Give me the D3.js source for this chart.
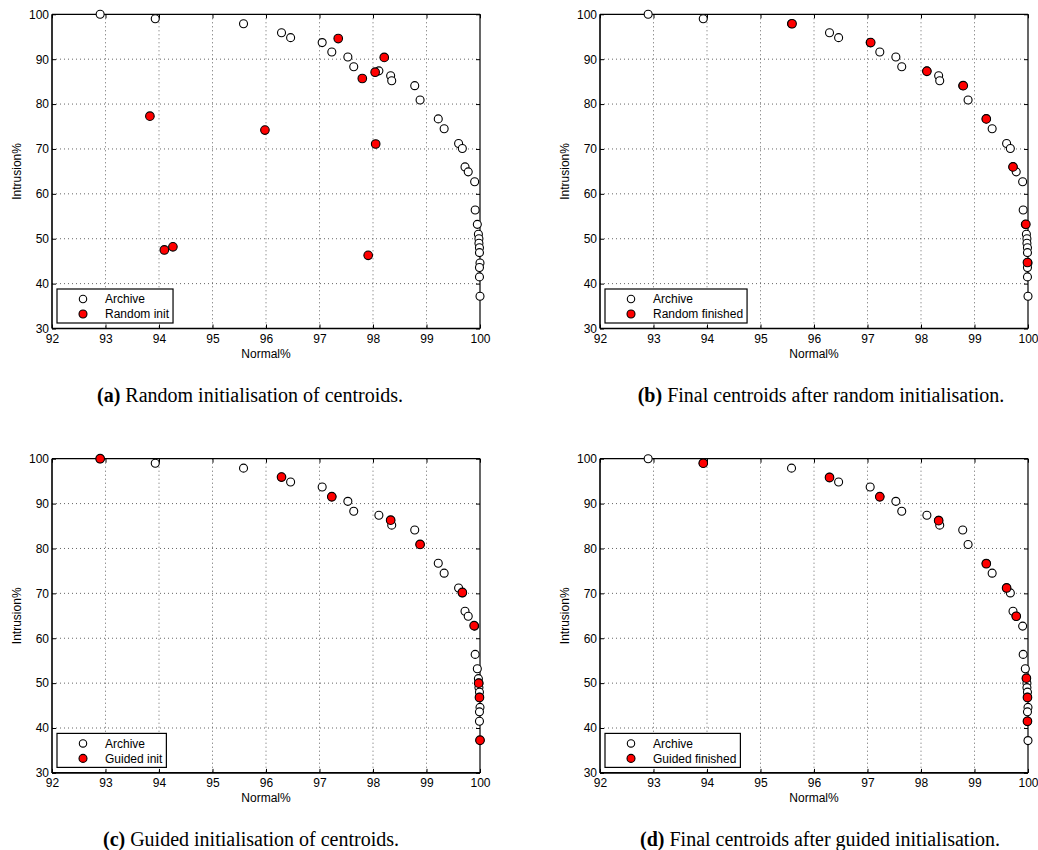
<!DOCTYPE html>
<html><head><meta charset="utf-8">
<script src="https://cdn.jsdelivr.net/npm/d3@7"></script>
<style>body{margin:0;background:#fff}</style>
</head><body><svg id="c" width="1038" height="850"></svg>
<script>
// ---- data ----
const archiveNormal    = [92.90,93.93,95.58,96.29,96.46,97.05,97.23,97.53,97.64,98.11,98.33,98.35,98.78,98.88,99.22,99.33,99.60,99.67,99.72,99.78,99.90,99.91,99.95,99.97,99.98,99.98,99.99,99.99,100.0,99.99,99.99,100.0];
const archiveIntrusion = [100.0,99.0,97.9,95.9,94.8,93.7,91.6,90.5,88.3,87.4,86.3,85.2,84.1,80.9,76.7,74.5,71.2,70.1,66.0,64.9,62.7,56.4,53.2,51.0,50.0,49.0,48.0,46.9,44.6,43.6,41.5,37.2];

const randomInitNormal    = [93.83,95.98,97.35,98.21,97.80,98.04,98.05,94.10,94.26,97.91];
const randomInitIntrusion = [77.3,74.2,94.6,90.4,85.7,87.1,71.1,47.5,48.2,46.3];

const randomFinNormal    = [95.59,97.06,98.11,98.79,99.22,99.72,99.96,99.99];
const randomFinIntrusion = [97.9,93.7,87.3,84.1,76.7,66.0,53.2,44.7];

const guidedInitNormal    = [92.90,96.29,97.23,98.33,98.88,99.67,99.89,99.975,99.99,100.0];
const guidedInitIntrusion = [100.0,95.9,91.5,86.3,80.9,70.2,62.8,50.0,46.8,37.3];

const guidedFinNormal    = [93.93,96.29,97.23,98.33,99.22,99.60,99.78,99.97,99.99,99.99];
const guidedFinIntrusion = [99.0,95.8,91.5,86.2,76.6,71.2,64.9,51.1,46.8,41.5];

const xTicks = [92,93,94,95,96,97,98,99,100];
const yTicks = [30,40,50,60,70,80,90,100];
const xLabel = "Normal%";
const yLabel = "Intrusion%";
const legendArchive = "Archive";
const panelLegends = ["Random init","Random finished","Guided init","Guided finished"];
const captionTags = ["(a)","(b)","(c)","(d)"];
const captionTexts = ["Random initialisation of centroids.","Final centroids after random initialisation.","Guided initialisation of centroids.","Final centroids after guided initialisation."];

// ---- drawing ----
const svg = d3.select("#c");
const sans = "'Liberation Sans', Arial, Helvetica, sans-serif";
const serif = "'Liberation Serif', 'Times New Roman', serif";

const panels = [
  {ox:0,   oy:0,     rx:randomInitNormal, ry:randomInitIntrusion, cx:250},
  {ox:548, oy:0,     rx:randomFinNormal,  ry:randomFinIntrusion,  cx:821},
  {ox:0,   oy:444.4, rx:guidedInitNormal, ry:guidedInitIntrusion, cx:251},
  {ox:548, oy:444.4, rx:guidedFinNormal,  ry:guidedFinIntrusion,  cx:820}
];

panels.forEach((p, i) => {
  const x0 = 52 + p.ox, x1 = 480 + p.ox, y0 = 14.3 + p.oy, y1 = 328.5 + p.oy;
  const x = d3.scaleLinear().domain([92,100]).range([x0,x1]);
  const y = d3.scaleLinear().domain([30,100]).range([y1,y0]);
  const g = svg.append("g");

  // grid
  g.append("g").selectAll("line").data(xTicks.slice(1,-1)).join("line")
    .attr("x1", d=>x(d)).attr("x2", d=>x(d)).attr("y1", y0).attr("y2", y1)
    .attr("stroke","#555").attr("stroke-width",0.9).attr("stroke-dasharray","1,3");
  g.append("g").selectAll("line").data(yTicks.slice(1,-1)).join("line")
    .attr("x1", x0).attr("x2", x1).attr("y1", d=>y(d)).attr("y2", d=>y(d))
    .attr("stroke","#555").attr("stroke-width",0.9).attr("stroke-dasharray","1,3");

  // axes
  const ax = g.append("g").attr("transform",`translate(0,${y1})`)
    .call(d3.axisBottom(x).tickValues(xTicks).tickSize(-4).tickPadding(6).tickFormat(d3.format("d")));
  const ay = g.append("g").attr("transform",`translate(${x0},0)`)
    .call(d3.axisLeft(y).tickValues(yTicks).tickSize(-4).tickPadding(3).tickFormat(d3.format("d")));
  const at = g.append("g").attr("transform",`translate(0,${y0})`)
    .call(d3.axisTop(x).tickValues(xTicks).tickSize(-4).tickFormat(""));
  const ar = g.append("g").attr("transform",`translate(${x1},0)`)
    .call(d3.axisRight(y).tickValues(yTicks).tickSize(-4).tickFormat(""));
  [ax,ay,at,ar].forEach(a => {
    a.select(".domain").remove();
    a.selectAll("text").attr("font-family", sans).attr("font-size", 12).attr("fill","#000");
    a.selectAll("line").attr("stroke","#000");
  });

  // frame
  g.append("line").attr("x1",x0).attr("x2",x1).attr("y1",y0).attr("y2",y0).attr("stroke","#000").attr("stroke-width",1.2);
  g.append("line").attr("x1",x1).attr("x2",x1).attr("y1",y0).attr("y2",y1).attr("stroke","#000").attr("stroke-width",1.2);
  g.append("line").attr("x1",x0).attr("x2",x1).attr("y1",y1).attr("y2",y1).attr("stroke","#000").attr("stroke-width",1.6);
  g.append("line").attr("x1",x0).attr("x2",x0).attr("y1",y0).attr("y2",y1).attr("stroke","#000").attr("stroke-width",1.6);

  // axis labels
  g.append("text").attr("x",(x0+x1)/2).attr("y",y1+29).attr("text-anchor","middle")
    .attr("font-family",sans).attr("font-size",12).text(xLabel);
  g.append("text").attr("transform",`translate(${x0-31},${(y0+y1)/2}) rotate(-90)`)
    .attr("text-anchor","middle").attr("font-family",sans).attr("font-size",12).text(yLabel);

  // points
  g.append("g").selectAll("circle").data(d3.range(archiveNormal.length)).join("circle")
    .attr("cx", k=>x(archiveNormal[k])).attr("cy", k=>y(archiveIntrusion[k])).attr("r",4)
    .attr("fill","#fff").attr("stroke","#000").attr("stroke-width",1.1);
  g.append("g").selectAll("circle").data(d3.range(p.rx.length)).join("circle")
    .attr("cx", k=>x(p.rx[k])).attr("cy", k=>y(p.ry[k])).attr("r",4.3)
    .attr("fill","#ff0000").attr("stroke","#000").attr("stroke-width",1.1);

  // legend
  const lg = g.append("g");
  const box = lg.append("rect").attr("x",x0+5).attr("y",y1-39.5).attr("height",34)
    .attr("fill","#fff").attr("stroke","#000").attr("stroke-width",1.2);
  lg.append("circle").attr("cx",x0+31).attr("cy",y1-29.5).attr("r",3.7).attr("fill","#fff").attr("stroke","#000").attr("stroke-width",1.1);
  lg.append("circle").attr("cx",x0+31).attr("cy",y1-14.5).attr("r",4).attr("fill","#ff0000").attr("stroke","#000").attr("stroke-width",1.1);
  lg.append("text").attr("x",x0+53).attr("y",y1-29.5).attr("dy","0.35em").attr("font-family",sans).attr("font-size",12).text(legendArchive);
  const t2 = lg.append("text").attr("x",x0+53).attr("y",y1-14.5).attr("dy","0.35em").attr("font-family",sans).attr("font-size",12).text(panelLegends[i]);
  const tw = t2.node().getComputedTextLength();
  box.attr("width", 53 + tw + 4 - 5);

  // caption
  const cap = svg.append("text").attr("x",p.cx).attr("y",402 + p.oy).attr("text-anchor","middle")
    .attr("font-family",serif).attr("font-size",20).attr("fill","#000");
  cap.append("tspan").attr("font-weight","bold").text(captionTags[i]);
  cap.append("tspan").text(" " + captionTexts[i]);
});
</script>
</body></html>
